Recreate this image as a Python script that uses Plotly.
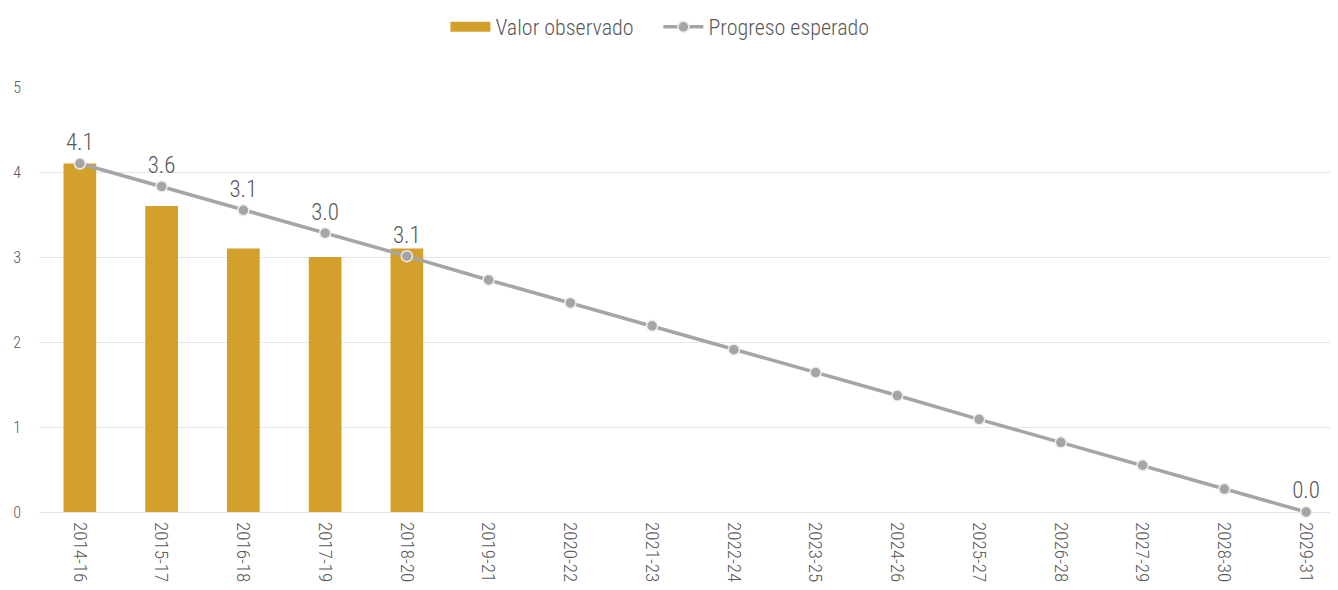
import plotly.graph_objects as go

periods = ["2014-16", "2015-17", "2016-18", "2017-19", "2018-20", "2019-21", "2020-22",
           "2021-23", "2022-24", "2023-25", "2024-26", "2025-27", "2026-28", "2027-29",
           "2028-30", "2029-31"]
observed = [4.1, 3.6, 3.1, 3.0, 3.1]
expected = [4.1, 3.83, 3.55, 3.28, 3.01, 2.73, 2.46, 2.19, 1.91, 1.64, 1.37, 1.09,
            0.82, 0.55, 0.27, 0.0]
point_labels = ["4.1", "3.6", "3.1", "3.0", "3.1", "", "", "", "", "", "", "", "", "", "", "0.0"]
y_ticks = [0, 1, 2, 3, 4, 5]

FONT = "Roboto Condensed, Liberation Sans Narrow, sans-serif"
GRAY_TXT = "#595959"
GOLD = "#D4A02C"

fig = go.Figure()
fig.add_trace(go.Bar(
    x=periods[:len(observed)], y=observed, name="Valor observado", showlegend=False,
    marker=dict(color=GOLD, line=dict(width=0)), width=0.4,
))
# legend entry with wide swatch for bars
fig.add_trace(go.Scatter(
    x=[None], y=[None], name="Valor observado\u00a0\u00a0\u00a0\u00a0", mode="lines",
    line=dict(color=GOLD, width=14), hoverinfo="skip",
))
fig.add_trace(go.Scatter(
    x=periods, y=expected, name="Progreso esperado", mode="lines+markers+text",
    line=dict(color="#A5A5A5", width=3.5),
    marker=dict(color="#A5A5A5", size=11, line=dict(color="#EDEDED", width=1.5)),
    text=point_labels, textposition="top center",
    textfont=dict(size=23, color=GRAY_TXT, family=FONT, weight=300),
    cliponaxis=False,
))

fig.update_layout(
    width=1338, height=590,
    margin=dict(l=31, r=8, t=79, b=86, autoexpand=False),
    paper_bgcolor="white", plot_bgcolor="white",
    font=dict(family=FONT, color=GRAY_TXT, size=15, weight=300),
    showlegend=True,
    legend=dict(orientation="h", x=0.478, xanchor="center", y=1 - 19 / 590, yanchor="middle",
                yref="container", font=dict(size=22, color=GRAY_TXT, family=FONT, weight=300),
                traceorder="normal", itemwidth=40, tracegroupgap=0),
)
fig.update_xaxes(
    type="category", range=[-0.5, 15.39], tickangle=90, showgrid=False,
    showline=False, ticks="", ticklabelstandoff=9,
    tickfont=dict(size=19, color=GRAY_TXT, family=FONT, weight=300),
    automargin=False,
)
fig.update_yaxes(
    range=[0, 5], tickvals=y_ticks, showgrid=True, gridcolor="#E3E5EC", gridwidth=1,
    zeroline=True, zerolinecolor="#E3E5EC", zerolinewidth=1, showline=False, ticks="",
    ticklabelstandoff=17, tickfont=dict(size=16, color=GRAY_TXT, family=FONT, weight=300),
    automargin=False,
)

fig.write_html("out.html")
